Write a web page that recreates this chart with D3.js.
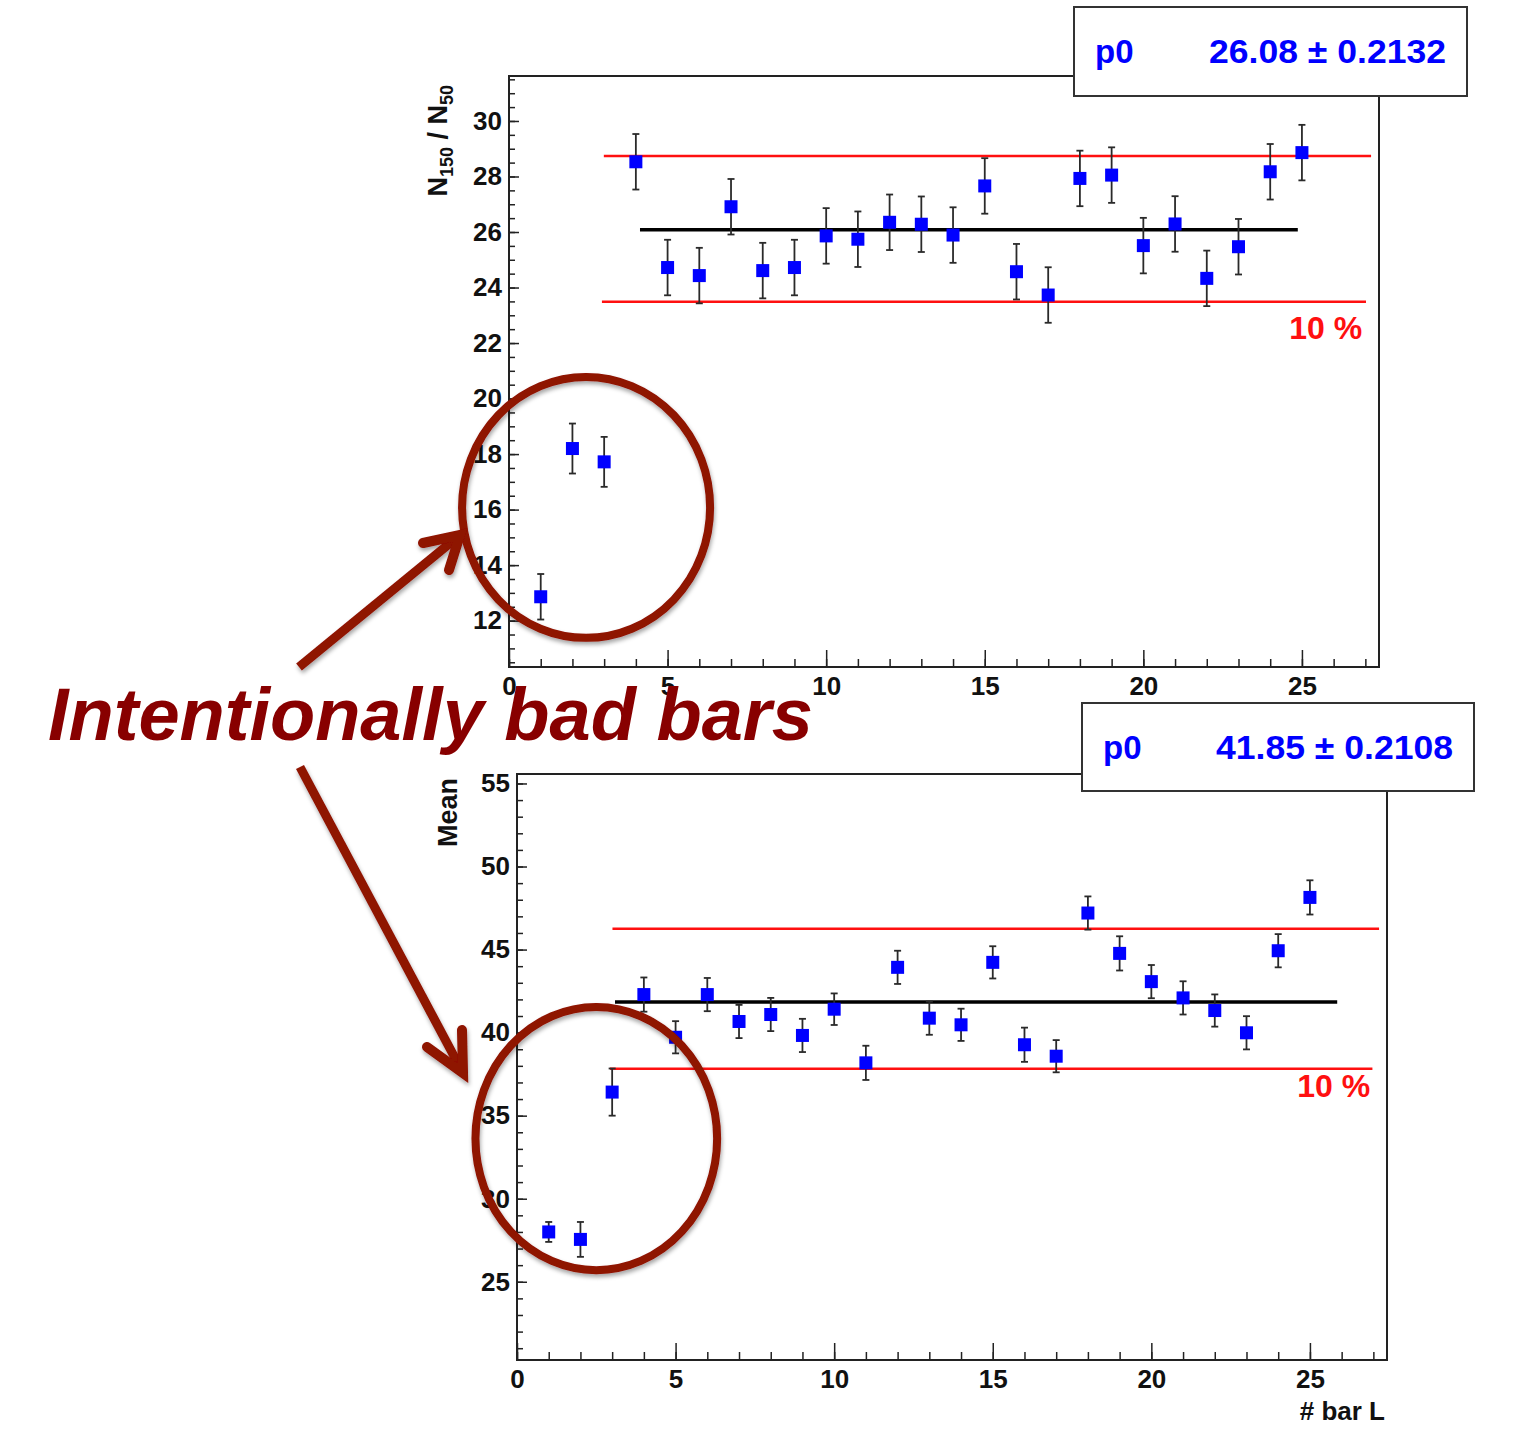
<!DOCTYPE html>
<html>
<head>
<meta charset="utf-8">
<script src="https://cdn.jsdelivr.net/npm/d3@7"></script>
<style>
  body { margin: 0; background: #fff; }
  svg text { font-family: "Liberation Sans", Arial, Helvetica, sans-serif; font-weight: bold; }
</style>
</head>
<body>
<div id="chart"></div>
<script>
// bar index on the x axis
const barIds = [1, 2, 3, 4, 5, 6, 7, 8, 9, 10, 11, 12, 13, 14, 15, 16, 17, 18, 19, 20, 21, 22, 23, 24, 25];

// upper panel: N150 / N50
const ratioVals = [12.86, 18.20, 17.72, 28.53, 24.72, 24.43, 26.91, 24.61, 24.72, 25.86, 25.74, 26.35, 26.28,
                   25.89, 27.66, 24.57, 23.73, 27.93, 28.05, 25.51, 26.29, 24.33, 25.47, 28.17, 28.86];
const ratioErrs = [0.82, 0.90, 0.90, 1.0, 1.0, 1.0, 1.0, 1.0, 1.0, 1.0, 1.0, 1.0, 1.0,
                   1.0, 1.0, 1.0, 1.0, 1.0, 1.0, 1.0, 1.0, 1.0, 1.0, 1.0, 1.0];
const ratioFit = 26.08, ratioFitErr = '0.2132';
const ratioBand = [23.49, 28.74];

// lower panel: Mean
const meanVals = [28.00, 27.55, 36.42, 42.29, 39.72, 42.29, 40.67, 41.09, 39.83, 41.41, 38.18, 43.93, 40.87,
                  40.47, 44.23, 39.27, 38.58, 47.20, 44.77, 43.07, 42.09, 41.33, 39.99, 44.93, 48.14];
const meanErrs = [0.6, 1.05, 1.42, 1.03, 0.97, 1.0, 1.0, 1.0, 1.0, 0.95, 1.03, 1.0, 1.0,
                  0.97, 0.97, 1.03, 0.97, 1.0, 1.03, 1.0, 1.0, 0.97, 1.0, 1.0, 1.03];
const meanFit = 41.85, meanFitErr = '0.2108';
const meanBand = [37.82, 46.26];

// tick labels
const xTickVals = [0, 5, 10, 15, 20, 25];
const ratioTickVals = [12, 14, 16, 18, 20, 22, 24, 26, 28, 30];
const meanTickVals = [25, 30, 35, 40, 45, 50, 55];

const W = 1526, H = 1440;
const dark = '#8f1200';

const svg = d3.select('#chart').append('svg')
  .attr('width', W).attr('height', H);

// soft shadow for the hand drawn annotations
const defs = svg.append('defs');
defs.append('filter').attr('id', 'shadow')
  .attr('x', '-20%').attr('y', '-20%').attr('width', '140%').attr('height', '140%')
  .append('feDropShadow')
  .attr('dx', 1).attr('dy', 3).attr('stdDeviation', 2)
  .attr('flood-color', '#000').attr('flood-opacity', 0.35);

const panels = [
  {
    frame: { x0: 509, y0: 76, x1: 1379, y1: 667 },
    yDomain: [10.33, 31.62], yTicks: ratioTickVals, yMinor: 0.5,
    vals: ratioVals, errs: ratioErrs, fit: ratioFit, fitErr: ratioFitErr,
    fitRange: [4.13, 24.87], band: ratioBand, hiRange: [2.99, 27.18], loRange: [2.93, 27.02],
    pct: [26.9, 22.15],
    legend: { x: 1074, y: 7, w: 393, h: 89 },
    ellipse: { cx: 2.43, cy: 16.08, rx: 3.91, ry: 4.70 },
    title: 'ratio', titleX: 447, titleY: 85,
    xTitle: false
  },
  {
    frame: { x0: 517, y0: 774, x1: 1387, y1: 1360 },
    yDomain: [20.29, 55.57], yTicks: meanTickVals, yMinor: 1,
    vals: meanVals, errs: meanErrs, fit: meanFit, fitErr: meanFitErr,
    fitRange: [3.09, 25.86], band: meanBand, hiRange: [3.01, 27.18], loRange: [2.93, 26.97],
    pct: [26.9, 36.1],
    legend: { x: 1082, y: 703, w: 392, h: 88 },
    ellipse: { cx: 2.5, cy: 33.62, rx: 3.81, ry: 7.92 },
    title: 'Mean', titleX: 457, titleY: 778,
    xTitle: true
  }
];

const ellipseNodes = [];

panels.forEach(p => {
  const f = p.frame;
  const x = d3.scaleLinear().domain([0, 27.43]).range([f.x0, f.x1]);
  const y = d3.scaleLinear().domain(p.yDomain).range([f.y1, f.y0]);
  const g = svg.append('g');

  // frame
  g.append('rect')
    .attr('x', f.x0).attr('y', f.y0)
    .attr('width', f.x1 - f.x0).attr('height', f.y1 - f.y0)
    .attr('fill', 'none').attr('stroke', '#222').attr('stroke-width', 2);

  // y axis: major + minor ticks pointing inside
  const yMinorVals = d3.range(Math.ceil(p.yDomain[0] / p.yMinor) * p.yMinor, p.yDomain[1], p.yMinor);
  g.append('g').attr('transform', `translate(${f.x0},0)`)
    .call(d3.axisLeft(y).tickValues(yMinorVals).tickSize(-6).tickFormat(''))
    .call(a => a.select('.domain').remove())
    .call(a => a.selectAll('line').attr('stroke', '#222').attr('stroke-width', 1.5));
  g.append('g').attr('transform', `translate(${f.x0},0)`)
    .call(d3.axisLeft(y).tickValues(p.yTicks).tickSize(-10).tickPadding(7).tickFormat(d3.format('d')))
    .call(a => a.select('.domain').remove())
    .call(a => a.selectAll('line').attr('stroke', '#222').attr('stroke-width', 1.5))
    .call(a => a.selectAll('text').attr('font-size', 26).attr('fill', '#111')
      .style('font-family', '"Liberation Sans", Arial, sans-serif').style('font-weight', 'bold'));

  // x axis
  g.append('g').attr('transform', `translate(0,${f.y1})`)
    .call(d3.axisBottom(x).tickValues(d3.range(0, 28, 1)).tickSize(-8).tickFormat(''))
    .call(a => a.select('.domain').remove())
    .call(a => a.selectAll('line').attr('stroke', '#222').attr('stroke-width', 1.5));
  g.append('g').attr('transform', `translate(0,${f.y1})`)
    .call(d3.axisBottom(x).tickValues(xTickVals).tickSize(-17).tickPadding(10).tickFormat(d3.format('d')))
    .call(a => a.select('.domain').remove())
    .call(a => a.selectAll('line').attr('stroke', '#222').attr('stroke-width', 1.5))
    .call(a => a.selectAll('text').attr('font-size', 26).attr('fill', '#111')
      .style('font-family', '"Liberation Sans", Arial, sans-serif').style('font-weight', 'bold'));

  // y title
  const yt = g.append('text')
    .attr('transform', `translate(${p.titleX},${p.titleY}) rotate(-90)`)
    .attr('text-anchor', 'end').attr('font-size', 27).attr('fill', '#111');
  if (p.title === 'ratio') {
    yt.append('tspan').text('N');
    yt.append('tspan').attr('font-size', 18).attr('dy', 6).text('150');
    yt.append('tspan').attr('dy', -6).text(' / N');
    yt.append('tspan').attr('font-size', 18).attr('dy', 6).text('50');
  } else {
    yt.text(p.title);
  }

  if (p.xTitle) {
    g.append('text').attr('x', 1385).attr('y', 1420)
      .attr('text-anchor', 'end').attr('font-size', 26).attr('fill', '#111')
      .text('# bar L');
  }

  // 10 % band
  g.append('line')
    .attr('x1', x(p.hiRange[0])).attr('x2', x(p.hiRange[1]))
    .attr('y1', y(p.band[1])).attr('y2', y(p.band[1]))
    .attr('stroke', '#ff1010').attr('stroke-width', 2.5);
  g.append('line')
    .attr('x1', x(p.loRange[0])).attr('x2', x(p.loRange[1]))
    .attr('y1', y(p.band[0])).attr('y2', y(p.band[0]))
    .attr('stroke', '#ff1010').attr('stroke-width', 2.5);
  g.append('text')
    .attr('x', x(p.pct[0])).attr('y', y(p.pct[1]))
    .attr('text-anchor', 'end').attr('font-size', 32).attr('fill', '#ff1010')
    .text('10 %');

  // constant fit
  g.append('line')
    .attr('x1', x(p.fitRange[0])).attr('x2', x(p.fitRange[1]))
    .attr('y1', y(p.fit)).attr('y2', y(p.fit))
    .attr('stroke', '#000').attr('stroke-width', 3.5);

  // error bars
  const pts = barIds.map((id, i) => ({ id, v: p.vals[i], e: p.errs[i] }));
  const eb = g.append('g').attr('stroke', '#2a2a2a').attr('stroke-width', 1.8);
  eb.selectAll('.bar').data(pts).join('line')
    .attr('x1', d => x(d.id)).attr('x2', d => x(d.id))
    .attr('y1', d => y(d.v - d.e)).attr('y2', d => y(d.v + d.e));
  eb.selectAll('.capHi').data(pts).join('line')
    .attr('x1', d => x(d.id) - 3.5).attr('x2', d => x(d.id) + 3.5)
    .attr('y1', d => y(d.v + d.e)).attr('y2', d => y(d.v + d.e));
  eb.selectAll('.capLo').data(pts).join('line')
    .attr('x1', d => x(d.id) - 3.5).attr('x2', d => x(d.id) + 3.5)
    .attr('y1', d => y(d.v - d.e)).attr('y2', d => y(d.v - d.e));

  // markers
  g.selectAll('.mk').data(pts).join('rect')
    .attr('x', d => x(d.id) - 6.5).attr('y', d => y(d.v) - 6.5)
    .attr('width', 13).attr('height', 13)
    .attr('fill', '#0000ff');

  // fit parameter box
  const L = p.legend;
  g.append('rect')
    .attr('x', L.x).attr('y', L.y).attr('width', L.w).attr('height', L.h)
    .attr('fill', '#fff').attr('stroke', '#333').attr('stroke-width', 2);
  g.append('text')
    .attr('x', L.x + 21).attr('y', L.y + 56)
    .attr('font-size', 33).attr('fill', '#0000ff')
    .text('p0');
  g.append('text')
    .attr('x', L.x + L.w - 21).attr('y', L.y + 56)
    .attr('text-anchor', 'end').attr('font-size', 33).attr('fill', '#0000ff')
    .attr('textLength', 237).attr('lengthAdjust', 'spacingAndGlyphs')
    .text(`${p.fit.toFixed(2)} \u00b1 ${p.fitErr}`);

  ellipseNodes.push({
    cx: x(p.ellipse.cx), cy: y(p.ellipse.cy),
    rx: x(p.ellipse.rx) - x(0), ry: y(0) - y(p.ellipse.ry)
  });
});

// annotation layer
const ann = svg.append('g').attr('filter', 'url(#shadow)');

ann.selectAll('ellipse').data(ellipseNodes).join('ellipse')
  .attr('cx', d => d.cx).attr('cy', d => d.cy)
  .attr('rx', d => d.rx).attr('ry', d => d.ry)
  .attr('fill', 'none').attr('stroke', dark).attr('stroke-width', 8);

const arrows = [
  { tail: [299, 667], tip: [460, 535], w1: [423, 543], w2: [449, 570] },
  { tail: [300, 767], tip: [463, 1073], w1: [427, 1047], w2: [462, 1030] }
];
arrows.forEach(a => {
  ann.append('line')
    .attr('x1', a.tail[0]).attr('y1', a.tail[1])
    .attr('x2', a.tip[0]).attr('y2', a.tip[1])
    .attr('stroke', dark).attr('stroke-width', 9);
  ann.append('path')
    .attr('d', d3.line()([a.w1, a.tip, a.w2]))
    .attr('fill', 'none').attr('stroke', dark).attr('stroke-width', 10)
    .attr('stroke-linecap', 'round').attr('stroke-linejoin', 'miter');
});

svg.append('text')
  .attr('x', 48).attr('y', 740)
  .attr('font-size', 74).attr('font-style', 'italic')
  .attr('fill', '#880000')
  .text('Intentionally bad bars');
</script>
</body>
</html>
